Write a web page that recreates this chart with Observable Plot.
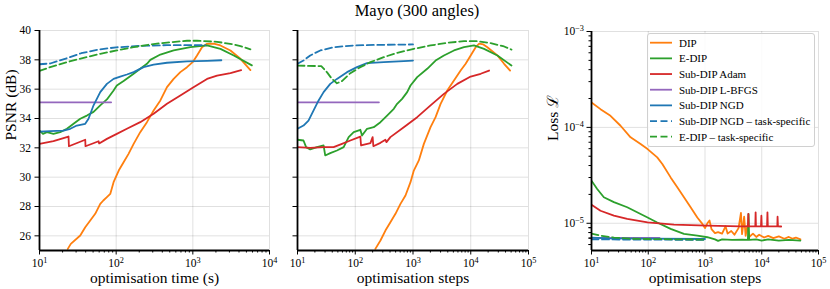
<!DOCTYPE html>
<html><head><meta charset="utf-8">
<script src="https://cdn.jsdelivr.net/npm/d3@7"></script>
<script src="https://cdn.jsdelivr.net/npm/@observablehq/plot@0.6"></script>
<style>
body{margin:0;background:#fff;}
#chart{position:relative;width:830px;height:289px;overflow:hidden;font-family:"Liberation Serif",serif;background:#fff;}
.panel{position:absolute;top:0;}
#title{position:absolute;left:2px;top:1px;width:830px;text-align:center;font-size:16.5px;color:#000;}
#legend{position:absolute;left:647px;top:33px;width:168px;height:114px;border:1px solid #d0d0d0;border-radius:3px;background:rgba(255,255,255,0.85);box-sizing:border-box;}
#legend svg text{font-family:"Liberation Serif",serif;font-size:11px;}
</style></head><body><div id="chart"><div id="title">Mayo (300 angles)</div></div>
<script>
// ---------- series meta ----------
const seriesNames = ["DIP","E-DIP","Sub-DIP Adam","Sub-DIP L-BFGS","Sub-DIP NGD","Sub-DIP NGD \u2013 task-specific","E-DIP \u2013 task-specific"];
const seriesColors = ["#ff7f0e","#2ca02c","#d62728","#9467bd","#1f77b4","#1f77b4","#2ca02c"];
const seriesDashed = [false,false,false,false,false,true,true];

// ---------- panel 1: PSNR vs optimisation time (s) ----------
const timeDIP = [[23.4,25.11],[25.6,25.45],[34,26.02],[39.5,26.59],[45.9,27.05],[53.3,27.5],[62,28.18],[68,28.41],[75.7,28.64],[83.7,28.86],[92.5,29.66],[108,30.45],[125,31.02],[145,31.59],[169,32.27],[206,33.07],[252,33.75],[308,34.55],[377,35.23],[460,36.14],[562,36.7],[687,37.16],[839,37.5],[995,37.84],[1134,38.3],[1318,38.86],[1532,39.09],[1873,39.11],[2291,38.98],[3093,38.64],[4178,38.07],[5640,37.3]];
const timeEDIP = [[10,33.18],[11.1,32.95],[12.5,33.07],[15.2,32.95],[18.6,33.07],[22.8,33.3],[27.8,33.64],[34,33.98],[41.5,34.2],[50.7,34.45],[62,34.9],[75.7,35.3],[92.5,35.91],[102,36.25],[125,36.55],[169,37.05],[206,37.39],[252,37.73],[279,38.0],[377,38.36],[562,38.64],[929,38.86],[1532,38.98],[2291,38.75],[3420,38.3],[5890,37.62]];
const timeAdam = [[10,32.27],[15.2,32.45],[23.9,32.77],[24.2,32.11],[39.5,32.55],[39.8,32.11],[59,32.45],[60,32.3],[75.7,32.61],[102,32.95],[138,33.3],[206,33.75],[308,34.32],[460,35.0],[687,35.57],[995,36.09],[1532,36.7],[2070,36.93],[3093,37.1],[4266,37.3]];
const timeLBFGS = [[10,35.1],[86,35.1]];
const timeNGD = [[10,33.11],[13.8,33.14],[20.6,33.18],[25.2,33.3],[30.7,33.52],[39.5,33.64],[43.6,33.98],[50.7,34.9],[62,35.8],[75.7,36.36],[92.5,36.7],[113,36.86],[138,37.0],[169,37.16],[228,37.5],[308,37.68],[460,37.8],[839,37.89],[1532,37.93],[2355,37.97]];
const timeNGDTask = [[10,37.7],[13.8,37.75],[17,37.9],[24,38.15],[35,38.45],[58,38.7],[100,38.85],[206,38.95],[460,39.0],[1456,39.0]];
const timeEDIPTask = [[10,37.25],[13.8,37.5],[22.8,37.84],[37.6,38.14],[62,38.41],[102,38.64],[169,38.86],[279,39.05],[460,39.18],[839,39.3],[1134,39.3],[2070,39.23],[3390,39.05],[4178,38.93],[5640,38.72]];

// ---------- panel 2: PSNR vs optimisation steps ----------
const stepsDIP = [[223,25.11],[273,25.68],[333,26.36],[406,26.93],[497,27.5],[607,28.18],[741,28.75],[905,29.66],[1033,30.45],[1262,31.14],[1542,32.27],[2013,33.41],[2460,34.09],[3005,35.0],[3920,35.91],[5117,36.59],[6680,37.27],[8160,37.73],[9970,38.3],[12170,38.86],[14000,39.1],[16500,39.05],[19400,38.86],[28960,38.3],[37800,37.73],[48050,37.27]];
const stepsEDIP = [[10,32.55],[12.7,32.5],[14.1,32.05],[16.6,31.89],[21.7,32.05],[28.3,32.16],[30.2,31.48],[36.9,31.64],[48.2,31.82],[63,32.05],[76.9,32.73],[94,33.07],[122.5,33.23],[131,32.84],[160,33.3],[209,33.41],[273,33.75],[356,34.2],[465,34.66],[531,35.0],[648,35.34],[793,35.8],[905,36.25],[1182,36.82],[1762,37.39],[2460,37.95],[3430,38.3],[5117,38.64],[7640,38.86],[11380,38.98],[17000,38.75],[28960,38.3],[50700,37.61]];
const stepsAdam = [[10,32.05],[16.6,32.0],[28.3,32.05],[42.2,32.05],[58.9,32.27],[82.2,32.5],[122.5,32.77],[126,32.16],[183,32.32],[200,32.73],[206,32.11],[273,32.34],[333,32.55],[347,32.39],[406,32.73],[693,33.41],[1182,34.09],[2013,34.89],[3430,35.68],[5850,36.36],[9970,36.86],[14860,37.05],[20760,37.27]];
const stepsLBFGS = [[10,35.1],[257,35.1]];
const stepsNGD = [[10,33.3],[12.7,33.52],[15.5,33.86],[19,34.55],[23.2,35.23],[28.3,35.8],[36.9,36.36],[48.2,36.7],[72,37.16],[107,37.5],[160,37.77],[311,37.84],[693,37.91],[1000,37.95]];
const stepsNGDTask = [[10,37.73],[12.7,37.95],[16.6,38.3],[24.8,38.64],[42.1,38.86],[93.9,38.98],[239,39.02],[1000,39.05]];
const stepsEDIPTask = [[10,37.61],[14.5,37.59],[25.8,37.57],[32.3,37.16],[39.5,36.7],[48.2,36.4],[58.9,36.55],[82.2,37.09],[122.5,37.5],[183,37.84],[311,38.18],[531,38.48],[1033,38.75],[2013,38.98],[3920,39.16],[7640,39.27],[13000,39.27],[22180,39.14],[37800,38.91],[50700,38.7]];

// ---------- panel 3: loss vs optimisation steps ----------
const lossDIP = [[10,1.82e-4],[14.4,1.55e-4],[21.6,1.32e-4],[32.5,1.04e-4],[48.8,7.87e-5],[73.3,6.7e-5],[97.3,5.94e-5],[144,4.87e-5],[177,4.15e-5],[248,3.01e-5],[325,2.37e-5],[426,1.87e-5],[558,1.47e-5],[732,1.15e-5],[898,9.85e-6],[1000,8.9e-6],[1100,1.0e-5],[1200,1.07e-5],[1300,8.7e-6],[1500,7.9e-6],[1700,8.1e-6],[2000,7.8e-6],[2300,9.3e-6],[2500,7.8e-6],[2900,8.3e-6],[3300,7.6e-6],[3900,8.9e-6],[4300,1.28e-5],[4500,7.7e-6],[4900,1.17e-5],[5200,7.4e-6],[5600,9.5e-6],[6000,7.2e-6],[7000,7.8e-6],[8000,7.2e-6],[9000,7.6e-6],[11000,7.1e-6],[13000,7.4e-6],[16000,7.0e-6],[20000,7.3e-6],[25000,6.9e-6],[30000,7.2e-6],[35000,6.9e-6],[40000,7.1e-6],[48000,6.8e-6]];
const lossEDIP = [[10,2.78e-5],[12.6,2.28e-5],[16.5,1.87e-5],[24.8,1.66e-5],[42.6,1.47e-5],[73.3,1.25e-5],[97.3,1.15e-5],[144,1.02e-5],[248,8.73e-6],[426,7.74e-6],[732,7.45e-6],[1100,7.15e-6],[1500,6.8e-6],[1700,6.55e-6],[2000,6.8e-6],[3000,6.7e-6],[4500,6.75e-6],[5700,6.7e-6],[5850,1.25e-5],[6000,6.7e-6],[8000,6.8e-6],[10000,6.6e-6],[13000,6.8e-6],[20000,6.6e-6],[30000,6.7e-6],[48000,6.6e-6]];
const lossAdam = [[10,1.56e-5],[14.4,1.35e-5],[24.8,1.2e-5],[42.6,1.11e-5],[97.3,1.02e-5],[284,9.68e-6],[1099,9.46e-6],[4256,9.3e-6],[5700,9.3e-6],[5800,1.25e-5],[5900,9.3e-6],[7700,9.3e-6],[7800,1.3e-5],[7900,9.3e-6],[9700,9.3e-6],[9850,1.2e-5],[10000,9.3e-6],[12400,9.3e-6],[12600,1.3e-5],[12800,9.3e-6],[18800,9.3e-6],[19000,1.17e-5],[19300,9.3e-6],[22000,9.25e-6]];
const lossLBFGS = [[10,7.05e-6],[158,7.05e-6]];
const lossNGD = [[10,7.1e-6],[20,6.95e-6],[100,6.9e-6],[1000,6.85e-6]];
const lossNGDTask = [[10,6.8e-6],[100,6.75e-6],[1000,6.72e-6]];
const lossEDIPTask = [[10,7.8e-6],[15,7.4e-6],[25,7.1e-6],[50,6.9e-6],[100,6.85e-6],[300,6.8e-6],[1000,6.75e-6]];

// ---------- ticks ----------
const timeTicks = [10,100,1000,10000];
const timeTickLabels = ["10^1","10^2","10^3","10^4"];
const stepsTicks = [10,100,1000,10000,100000];
const stepsTickLabels = ["10^1","10^2","10^3","10^4","10^5"];
const psnrTicks = [26,28,30,32,34,36,38,40];
const psnrTickLabels = ["26","28","30","32","34","36","38","40"];
const lossTicks = [1e-5,1e-4,1e-3];
const lossTickLabels = ["10^\u22125","10^\u22124","10^\u22123"];

function minorTicks(majors, lo, hi) {
  const out = [];
  majors.forEach(m => [2,3,4,5,6,7,8,9].forEach(k => { const v = m*k/10; if (v > lo && v < hi) out.push(v); }));
  return out;
}
const labelFor = (ticks, labels) => { const m = new Map(ticks.map((t,i)=>[t,labels[i]])); return d => m.get(d) ?? ""; };

function lineMarks(list) {
  return list.map((data, i) => Plot.line(data, {
    x: d => d[0], y: d => d[1], stroke: seriesColors[i], strokeWidth: 1.8,
    strokeDasharray: seriesDashed[i] ? "7,3.5" : undefined, clip: true
  }));
}

function supify(svg) {
  const ns = "http://www.w3.org/2000/svg";
  svg.querySelectorAll("text").forEach(t => {
    const s = t.textContent;
    if (!s.includes("^")) return;
    const [base, exp] = s.split("^");
    while (t.firstChild) t.removeChild(t.firstChild);
    const a = document.createElementNS(ns, "tspan"); a.textContent = base; t.appendChild(a);
    const b = document.createElementNS(ns, "tspan"); b.textContent = exp;
    b.setAttribute("dy", "-0.45em"); b.setAttribute("font-size", "0.72em"); t.appendChild(b);
  });
}

const gridStyle = {stroke: "#000", strokeOpacity: 0.12, strokeWidth: 1};
const baseStyle = {fontFamily: "'Liberation Serif', serif", fontSize: "11.5px", color: "#000", background: "transparent", overflow: "visible"};
const xLabel = (s) => Plot.text([s], {frameAnchor: "bottom", lineAnchor: "middle", dy: 28, fontSize: 15.5});

function addPanel(left, plot) {
  supify(plot);
  const div = document.createElement("div");
  div.className = "panel"; div.style.left = left + "px";
  div.appendChild(plot);
  document.getElementById("chart").insertBefore(div, document.getElementById("chart").firstChild);
}

// Panel 1
const xMinorTime = minorTicks(timeTicks, 10, 10000);
addPanel(0, Plot.plot({
  width: 280, height: 289, marginLeft: 39, marginRight: 11, marginTop: 30, marginBottom: 39,
  style: baseStyle,
  x: {type: "log", domain: [10, 10000]},
  y: {domain: [25, 40]},
  marks: [
    Plot.gridX(timeTicks, gridStyle),
    Plot.gridY(psnrTicks, gridStyle),
    Plot.axisX(xMinorTime, {tickSize: 2.5, tickFormat: () => "", label: null}),
    Plot.axisX(timeTicks, {tickSize: 4.5, tickPadding: 3.5, tickFormat: labelFor(timeTicks, timeTickLabels), label: null}),
    Plot.axisY(psnrTicks, {tickSize: 4.5, tickPadding: 4, tickFormat: labelFor(psnrTicks, psnrTickLabels), label: null}),
    ...lineMarks([timeDIP, timeEDIP, timeAdam, timeLBFGS, timeNGD, timeNGDTask, timeEDIPTask]),
    Plot.ruleX([10], {strokeWidth: 1.8}),
    Plot.ruleY([25], {strokeWidth: 1.8}),
    xLabel("optimisation time (s)"),
    Plot.text(["PSNR (dB)"], {frameAnchor: "left", dx: -28, rotate: -90, fontSize: 15.5})
  ]
}));

// Panel 2
const xMinorSteps = minorTicks(stepsTicks, 10, 100000);
addPanel(277, Plot.plot({
  width: 265, height: 289, marginLeft: 20, marginRight: 14, marginTop: 30, marginBottom: 39,
  style: baseStyle,
  x: {type: "log", domain: [10, 100000]},
  y: {domain: [25, 40]},
  marks: [
    Plot.gridX(stepsTicks, gridStyle),
    Plot.gridY(psnrTicks, gridStyle),
    Plot.axisX(xMinorSteps, {tickSize: 2.5, tickFormat: () => "", label: null}),
    Plot.axisX(stepsTicks, {tickSize: 4.5, tickPadding: 3.5, tickFormat: labelFor(stepsTicks, stepsTickLabels), label: null}),
    Plot.axisY(psnrTicks, {tickSize: 4.5, tickFormat: () => "", label: null}),
    ...lineMarks([stepsDIP, stepsEDIP, stepsAdam, stepsLBFGS, stepsNGD, stepsNGDTask, stepsEDIPTask]),
    Plot.ruleX([10], {strokeWidth: 1.8}),
    Plot.ruleY([25], {strokeWidth: 1.8}),
    xLabel("optimisation steps")
  ]
}));

// Panel 3
const lossDomain = [5.2e-6, 1e-3];
const yMinorLoss = minorTicks([1e-5,1e-4,1e-3], lossDomain[0], lossDomain[1]).concat([6e-6,7e-6,8e-6,9e-6]);
addPanel(543, Plot.plot({
  width: 287, height: 289, marginLeft: 48, marginRight: 12, marginTop: 31, marginBottom: 39,
  style: baseStyle,
  x: {type: "log", domain: [10, 100000]},
  y: {type: "log", domain: lossDomain},
  marks: [
    Plot.gridX(stepsTicks, gridStyle),
    Plot.gridY(lossTicks, gridStyle),
    Plot.axisX(xMinorSteps, {tickSize: 2.5, tickFormat: () => "", label: null}),
    Plot.axisX(stepsTicks, {tickSize: 4.5, tickPadding: 3.5, tickFormat: labelFor(stepsTicks, stepsTickLabels), label: null}),
    Plot.axisY(yMinorLoss, {tickSize: 2.5, tickFormat: () => "", label: null}),
    Plot.axisY(lossTicks, {tickSize: 4.5, tickPadding: 3, tickFormat: labelFor(lossTicks, lossTickLabels), label: null}),
    ...lineMarks([lossDIP, lossEDIP, lossAdam, lossLBFGS, lossNGD, lossNGDTask, lossEDIPTask]),
    Plot.ruleX([10], {strokeWidth: 1.8}),
    Plot.ruleY([lossDomain[0]], {strokeWidth: 1.8}),
    xLabel("optimisation steps"),
    Plot.text(["Loss \u2112"], {frameAnchor: "left", dx: -38, rotate: -90, fontSize: 15.5})
  ]
}));

// Legend
(function(){
  const ns = "http://www.w3.org/2000/svg";
  const box = document.createElement("div"); box.id = "legend";
  const svg = document.createElementNS(ns, "svg");
  svg.setAttribute("width", 168); svg.setAttribute("height", 114);
  svg.style.position = "absolute"; svg.style.left = "-1px"; svg.style.top = "-1px";
  svg.style.fontFamily = '"Liberation Serif", serif';
  seriesNames.forEach((name, i) => {
    const y = 9.7 + i * 15.67;
    const l = document.createElementNS(ns, "line");
    l.setAttribute("x1", 3); l.setAttribute("x2", 25); l.setAttribute("y1", y); l.setAttribute("y2", y);
    l.setAttribute("stroke", seriesColors[i]); l.setAttribute("stroke-width", 1.8);
    if (seriesDashed[i]) l.setAttribute("stroke-dasharray", "7,3.5");
    svg.appendChild(l);
    const t = document.createElementNS(ns, "text");
    t.setAttribute("x", 32); t.setAttribute("y", y); t.setAttribute("dy", "0.35em");
    t.textContent = name; svg.appendChild(t);
  });
  box.appendChild(svg);
  document.getElementById("chart").appendChild(box);
})();
</script></body></html>
